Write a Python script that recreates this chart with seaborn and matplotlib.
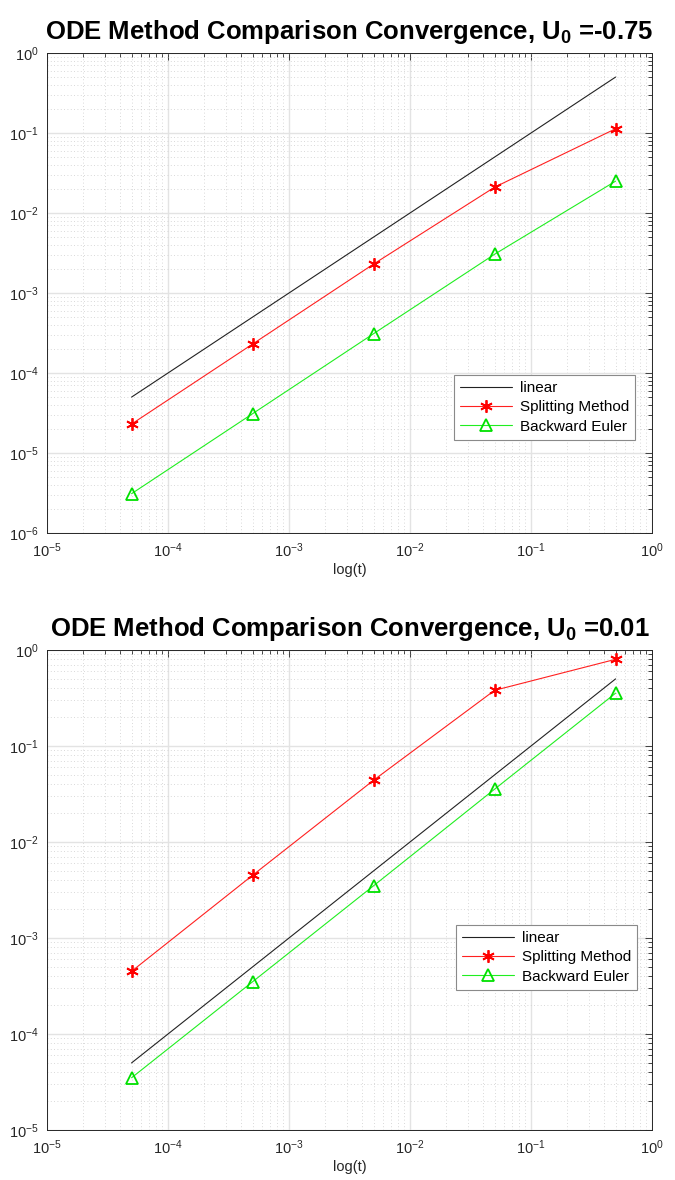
import matplotlib
matplotlib.use("Agg")
import matplotlib.pyplot as plt
import seaborn as sns
import pandas as pd
from matplotlib.ticker import LogLocator, NullFormatter, LogFormatterSciNotation

# Step sizes and error values for the two initial conditions
t = [5e-5, 5e-4, 5e-3, 5e-2, 5e-1]
linear = [5e-5, 5e-4, 5e-3, 5e-2, 5e-1]

split_neg = [2.3e-5, 2.3e-4, 2.3e-3, 2.1e-2, 1.13e-1]
euler_neg = [3.1e-6, 3.1e-5, 3.1e-4, 3.05e-3, 2.5e-2]

split_pos = [4.5e-4, 4.5e-3, 4.4e-2, 0.38, 0.80]
euler_pos = [3.5e-5, 3.5e-4, 3.5e-3, 3.55e-2, 0.355]

u0_labels = ["-0.75", "0.01"]
series_names = ["linear", "Splitting Method", "Backward Euler"]

sns.set_theme(style="white")
plt.rcParams["font.family"] = ["Liberation Sans", "DejaVu Sans"]
plt.rcParams["mathtext.fontset"] = "custom"
plt.rcParams["mathtext.rm"] = "Liberation Sans"
plt.rcParams["mathtext.bf"] = "Liberation Sans:bold"
plt.rcParams["mathtext.it"] = "Liberation Sans:italic"

fig = plt.figure(figsize=(6.75, 11.8), dpi=100)
left, width, height = 47 / 675, 605 / 675, 480 / 1180
ax_top = fig.add_axes([left, 1 - 533 / 1180, width, height])
ax_bot = fig.add_axes([left, 1 - 1130 / 1180, width, height])

panels = [
    (ax_top, split_neg, euler_neg, u0_labels[0], (1e-6, 1), (0.985, 0.178)),
    (ax_bot, split_pos, euler_pos, u0_labels[1], (1e-5, 1), (0.988, 0.276)),
]

for ax, split, euler, u0, ylim, anchor in panels:
    df = pd.DataFrame({"t": t, "linear": linear, "split": split, "euler": euler})
    sns.lineplot(data=df, x="t", y="linear", ax=ax, color="#222222", lw=0.8,
                 label=series_names[0])
    sns.lineplot(data=df, x="t", y="split", ax=ax, color="#ff2020", lw=0.8,
                 marker=(6, 2, 0), markersize=9, markeredgewidth=1.3,
                 markeredgecolor="#ff0000", label=series_names[1])
    sns.lineplot(data=df, x="t", y="euler", ax=ax, color="#20ee20", lw=0.8,
                 marker="^", markersize=8, markerfacecolor="none",
                 markeredgewidth=1.3, markeredgecolor="#00e000",
                 label=series_names[2])

    ax.set_xscale("log")
    ax.set_yscale("log")
    ax.set_xlim(1e-5, 1)
    ax.set_ylim(*ylim)

    for axis in (ax.xaxis, ax.yaxis):
        axis.set_major_locator(LogLocator(base=10, numticks=20))
        axis.set_minor_locator(LogLocator(base=10, subs=range(2, 10), numticks=20))
        axis.set_minor_formatter(NullFormatter())
        axis.set_major_formatter(LogFormatterSciNotation())

    ax.grid(True, which="major", color="#e3e3e3", lw=1.0, ls="-")
    ax.grid(True, which="minor", color="#cccccc", lw=0.6, ls=(0, (1, 3)))
    ax.set_axisbelow(True)

    ax.tick_params(which="both", direction="in", top=True, right=True,
                   labelsize=10.5, colors="#262626", width=0.6)
    ax.tick_params(which="major", length=5)
    ax.tick_params(which="minor", length=3)
    ax.tick_params(axis="x", which="major", pad=6)
    ax.tick_params(axis="y", which="major", pad=6)
    for sp in ax.spines.values():
        sp.set_color("#262626")
        sp.set_linewidth(0.7)

    ax.set_xlabel("log(t)", fontsize=10.5, color="#262626", labelpad=2)
    ax.set_ylabel("")
    ax.set_title(r"ODE Method Comparison Convergence, U$_{\mathbf{0}}$ =" + u0,
                 fontsize=18.5, fontweight="bold", color="black", pad=10)

    leg = ax.legend(loc="lower right", bbox_to_anchor=anchor, fontsize=11,
                    fancybox=False, framealpha=1, edgecolor="#8a8a8a",
                    handlelength=3.4, borderpad=0.4, labelspacing=0.35,
                    handletextpad=0.5)
    leg.get_frame().set_linewidth(0.8)
    for txt in leg.get_texts():
        txt.set_color("black")

fig.savefig("out.png", dpi=100)
